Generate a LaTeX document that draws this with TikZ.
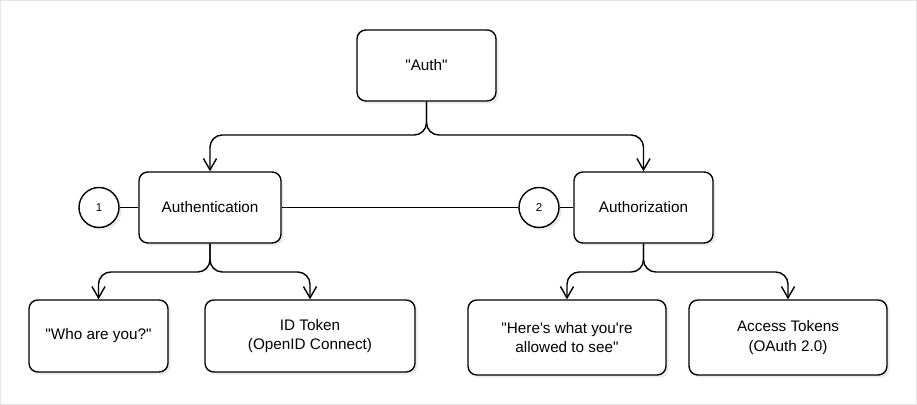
\documentclass[tikz,border=0pt]{standalone}
\usepackage{fontspec}
\setmainfont{Liberation Sans}[Ligatures=TeXOff]
\usetikzlibrary{shadows,arrows.meta}

\begin{document}
\begin{tikzpicture}[x=0.02cm, y=-0.02cm,
    box/.style={draw, line width=0.8pt, rounded corners=5pt, fill=white,
      align=center, inner sep=0pt, font=\fontsize{8.7}{11}\selectfont,
      drop shadow={shadow xshift=1.5pt, shadow yshift=-1.5pt, opacity=0.15}},
    num/.style={draw, circle, line width=0.8pt, fill=white, inner sep=0pt,
      minimum size=0.8cm, font=\fontsize{6.5}{8}\selectfont,
      drop shadow={shadow xshift=1.5pt, shadow yshift=-1.5pt, opacity=0.15}},
    link/.style={line width=0.8pt},
    arr/.style={link, rounded corners=7pt, -{Straight Barb[length=6.5pt, width=7.5pt]}}]
    \def \bus {135} % level of the first fork
    \def \sub {272} % level of the lower forks
    \useasboundingbox (0,0) rectangle (917,405);
    \draw[gray!20, line width=0.6pt] (0.5,0.5) rectangle (916.5,404.5);
    % top level
    \node[box, minimum width=2.78cm, minimum height=1.42cm] (auth) at (426.5,65.5) {"Auth"};
    % second level
    \node[box, minimum width=2.84cm, minimum height=1.42cm] (authn) at (210,207.5) {Authentication};
    \node[box, minimum width=2.78cm, minimum height=1.42cm] (authz) at (643.5,207.5) {Authorization};
    \node[num] (one) at (99,207.5) {1};
    \node[num] (two) at (539,207.5) {2};
    % leaves
    \node[box, minimum width=2.78cm, minimum height=1.44cm] (who) at (98.5,336) {"Who are you?"};
    \node[box, minimum width=4.2cm, minimum height=1.44cm] (idtok) at (310,336) {ID Token\\(OpenID Connect)};
    \node[box, minimum width=3.96cm, minimum height=1.5cm] (allowed) at (567,337.5) {"Here's what you're\\allowed to see"};
    \node[box, minimum width=3.96cm, minimum height=1.5cm] (access) at (788,337.5) {Access Tokens\\(OAuth 2.0)};
    % connectors
    \draw[arr] (auth.south) -- (auth.south |- 0,\bus) -| (authn.north);
    \draw[arr] (auth.south) -- (auth.south |- 0,\bus) -| (authz.north);
    \foreach \top/\left/\right in {authn/who/idtok, authz/allowed/access}
    {
      \draw[arr] (\top.south) -- (\top.south |- 0,\sub) -| (\left.north);
      \draw[arr] (\top.south) -- (\top.south |- 0,\sub) -| (\right.north);
    }
    \draw[link] (one) -- (authn);
    \draw[link] (authn) -- (two);
    \draw[link] (two) -- (authz);
\end{tikzpicture}
\end{document}
